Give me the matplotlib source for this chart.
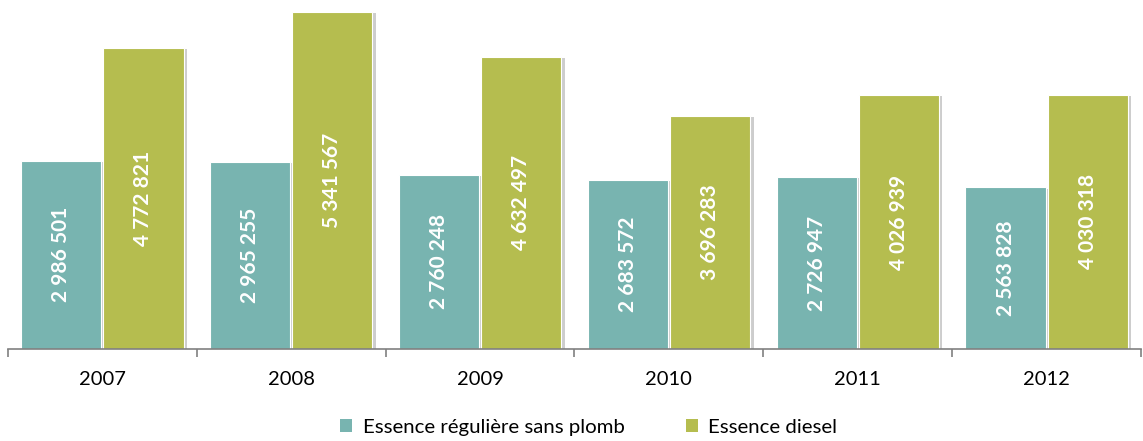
import matplotlib
matplotlib.use('Agg')
import matplotlib.pyplot as plt
import matplotlib.patheffects as pe
from matplotlib.patches import Patch
import numpy as np

years = ['2007', '2008', '2009', '2010', '2011', '2012']
sans_plomb = [2986501, 2965255, 2760248, 2683572, 2726947, 2563828]
diesel = [4772821, 5341567, 4632497, 3696283, 4026939, 4030318]

teal = '#78b4b0'
olive = '#b5bd4f'

plt.rcParams['font.family'] = ['Lato', 'DejaVu Sans']

fig = plt.figure(figsize=(11.43, 4.41), dpi=100)
ax = fig.add_axes([8 / 1143, 92 / 441, 1133 / 1143, 349 / 441])

x = np.arange(len(years))
w = 0.425
shadow = [pe.SimplePatchShadow(offset=(2.5, -1), shadow_rgbFace='#909090', alpha=0.45), pe.Normal()]

b1 = ax.bar(x - w / 2 - 0.005, sans_plomb, w, color=teal, edgecolor='white', linewidth=0.8,
            path_effects=shadow)
b2 = ax.bar(x + w / 2 + 0.005, diesel, w, color=olive, edgecolor='white', linewidth=0.8,
            path_effects=shadow)

def fmt(v):
    return '{:,}'.format(v).replace(',', ' ')

for bars, vals in ((b1, sans_plomb), (b2, diesel)):
    for b, v in zip(bars, vals):
        ax.text(b.get_x() + b.get_width() / 2, v / 2, fmt(v), rotation=90,
                ha='center', va='center', color='white', fontsize=15, fontweight='bold')

ax.set_xlim(-0.5, len(years) - 0.5)
ax.set_ylim(0, 5341567 * 349 / 337)

for s in ['top', 'right', 'left']:
    ax.spines[s].set_visible(False)
ax.spines['bottom'].set_color('#808080')
ax.spines['bottom'].set_linewidth(1.2)
ax.set_yticks([])

ax.set_xticks(x)
ax.set_xticklabels(years, fontsize=14.5)
ax.tick_params(axis='x', which='major', length=0, pad=16)
ax.set_xticks(np.arange(-0.5, len(years)), minor=True)
ax.tick_params(axis='x', which='minor', length=6, width=1.2, color='#808080')

handles = [Patch(facecolor=teal, label='Essence régulière sans plomb'),
           Patch(facecolor=olive, label='Essence diesel')]
leg = fig.legend(handles=handles, loc='lower center', bbox_to_anchor=(0.515, -0.03), ncol=2,
                 frameon=False, fontsize=14.7, handlelength=0.6, handleheight=0.6,
                 handletextpad=0.5, columnspacing=3.0)

fig.savefig('out.png', dpi=100)
